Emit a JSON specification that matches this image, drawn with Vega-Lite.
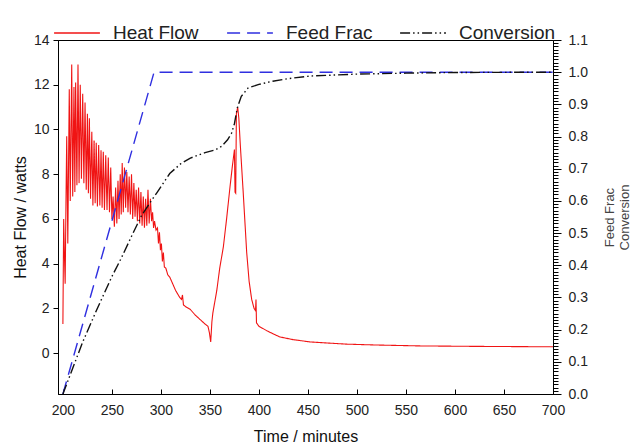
{
  "$schema": "https://vega.github.io/schema/vega-lite/v6.json",
  "width": 495,
  "height": 354,
  "autosize": {"type": "none"},
  "padding": {"left": 58, "top": 40, "right": 89, "bottom": 52},
  "background": "white",
  "config": {
    "view": {"stroke": "black", "strokeWidth": 1},
    "axis": {
      "labelFont": "Liberation Sans",
      "titleFont": "Liberation Sans",
      "domainColor": "black",
      "tickColor": "black",
      "labelColor": "#222222",
      "titleColor": "#111111",
      "labelFontSize": 14,
      "titleFontSize": 16,
      "titleFontWeight": "normal",
      "grid": false
    }
  },
  "datasets": {
    "hf": [
      {"t": 200.0, "v": 1.3, "s": "Heat Flow"},
      {"t": 200.8, "v": 6.0, "s": "Heat Flow"},
      {"t": 201.5, "v": 4.5, "s": "Heat Flow"},
      {"t": 202.3, "v": 3.1, "s": "Heat Flow"},
      {"t": 203.2, "v": 7.0, "s": "Heat Flow"},
      {"t": 203.9, "v": 9.7, "s": "Heat Flow"},
      {"t": 205.0, "v": 4.9, "s": "Heat Flow"},
      {"t": 206.5, "v": 11.8, "s": "Heat Flow"},
      {"t": 207.5, "v": 6.8, "s": "Heat Flow"},
      {"t": 209.0, "v": 12.9, "s": "Heat Flow"},
      {"t": 210.0, "v": 7.0, "s": "Heat Flow"},
      {"t": 211.3, "v": 11.9, "s": "Heat Flow"},
      {"t": 212.2, "v": 7.2, "s": "Heat Flow"},
      {"t": 213.0, "v": 12.1, "s": "Heat Flow"},
      {"t": 214.3, "v": 7.5, "s": "Heat Flow"},
      {"t": 215.4, "v": 12.9, "s": "Heat Flow"},
      {"t": 216.5, "v": 7.6, "s": "Heat Flow"},
      {"t": 217.7, "v": 12.0, "s": "Heat Flow"},
      {"t": 218.9, "v": 7.8, "s": "Heat Flow"},
      {"t": 220.2, "v": 11.6, "s": "Heat Flow"},
      {"t": 221.4, "v": 7.6, "s": "Heat Flow"},
      {"t": 222.6, "v": 11.2, "s": "Heat Flow"},
      {"t": 223.8, "v": 7.3, "s": "Heat Flow"},
      {"t": 225.0, "v": 10.7, "s": "Heat Flow"},
      {"t": 226.0, "v": 7.15, "s": "Heat Flow"},
      {"t": 227.0, "v": 10.5, "s": "Heat Flow"},
      {"t": 228.2, "v": 6.9, "s": "Heat Flow"},
      {"t": 229.5, "v": 9.9, "s": "Heat Flow"},
      {"t": 230.6, "v": 6.6, "s": "Heat Flow"},
      {"t": 231.8, "v": 9.5, "s": "Heat Flow"},
      {"t": 232.9, "v": 6.7, "s": "Heat Flow"},
      {"t": 234.0, "v": 9.4, "s": "Heat Flow"},
      {"t": 235.2, "v": 6.55, "s": "Heat Flow"},
      {"t": 236.5, "v": 9.3, "s": "Heat Flow"},
      {"t": 237.7, "v": 6.6, "s": "Heat Flow"},
      {"t": 238.9, "v": 9.07, "s": "Heat Flow"},
      {"t": 240.0, "v": 6.5, "s": "Heat Flow"},
      {"t": 241.2, "v": 9.0, "s": "Heat Flow"},
      {"t": 242.4, "v": 6.4, "s": "Heat Flow"},
      {"t": 243.7, "v": 8.85, "s": "Heat Flow"},
      {"t": 245.0, "v": 6.4, "s": "Heat Flow"},
      {"t": 246.3, "v": 8.75, "s": "Heat Flow"},
      {"t": 247.5, "v": 6.3, "s": "Heat Flow"},
      {"t": 248.8, "v": 8.3, "s": "Heat Flow"},
      {"t": 250.0, "v": 6.0, "s": "Heat Flow"},
      {"t": 251.2, "v": 7.0, "s": "Heat Flow"},
      {"t": 252.5, "v": 5.65, "s": "Heat Flow"},
      {"t": 253.8, "v": 7.4, "s": "Heat Flow"},
      {"t": 255.0, "v": 5.8, "s": "Heat Flow"},
      {"t": 256.2, "v": 7.7, "s": "Heat Flow"},
      {"t": 257.3, "v": 6.0, "s": "Heat Flow"},
      {"t": 258.5, "v": 8.0, "s": "Heat Flow"},
      {"t": 259.5, "v": 6.2, "s": "Heat Flow"},
      {"t": 260.5, "v": 8.5, "s": "Heat Flow"},
      {"t": 261.6, "v": 6.3, "s": "Heat Flow"},
      {"t": 262.8, "v": 8.3, "s": "Heat Flow"},
      {"t": 264.0, "v": 6.5, "s": "Heat Flow"},
      {"t": 265.2, "v": 8.1, "s": "Heat Flow"},
      {"t": 266.4, "v": 6.3, "s": "Heat Flow"},
      {"t": 267.6, "v": 7.9, "s": "Heat Flow"},
      {"t": 268.8, "v": 6.2, "s": "Heat Flow"},
      {"t": 270.0, "v": 8.0, "s": "Heat Flow"},
      {"t": 271.2, "v": 6.0, "s": "Heat Flow"},
      {"t": 272.4, "v": 7.6, "s": "Heat Flow"},
      {"t": 273.6, "v": 6.1, "s": "Heat Flow"},
      {"t": 274.8, "v": 7.3, "s": "Heat Flow"},
      {"t": 276.0, "v": 5.9, "s": "Heat Flow"},
      {"t": 277.2, "v": 7.4, "s": "Heat Flow"},
      {"t": 278.4, "v": 5.8, "s": "Heat Flow"},
      {"t": 279.6, "v": 7.2, "s": "Heat Flow"},
      {"t": 280.8, "v": 5.7, "s": "Heat Flow"},
      {"t": 282.0, "v": 7.0, "s": "Heat Flow"},
      {"t": 283.2, "v": 5.6, "s": "Heat Flow"},
      {"t": 284.4, "v": 6.9, "s": "Heat Flow"},
      {"t": 285.6, "v": 5.7, "s": "Heat Flow"},
      {"t": 286.8, "v": 7.3, "s": "Heat Flow"},
      {"t": 288.0, "v": 5.8, "s": "Heat Flow"},
      {"t": 289.3, "v": 6.9, "s": "Heat Flow"},
      {"t": 290.5, "v": 5.9, "s": "Heat Flow"},
      {"t": 291.5, "v": 6.3, "s": "Heat Flow"},
      {"t": 292.5, "v": 5.6, "s": "Heat Flow"},
      {"t": 293.5, "v": 5.9, "s": "Heat Flow"},
      {"t": 295.0, "v": 5.5, "s": "Heat Flow"},
      {"t": 296.5, "v": 5.6, "s": "Heat Flow"},
      {"t": 297.5, "v": 4.9, "s": "Heat Flow"},
      {"t": 298.5, "v": 5.4, "s": "Heat Flow"},
      {"t": 299.5, "v": 4.6, "s": "Heat Flow"},
      {"t": 300.5, "v": 4.9, "s": "Heat Flow"},
      {"t": 301.5, "v": 4.1, "s": "Heat Flow"},
      {"t": 302.5, "v": 4.5, "s": "Heat Flow"},
      {"t": 303.5, "v": 3.85, "s": "Heat Flow"},
      {"t": 305.0, "v": 3.8, "s": "Heat Flow"},
      {"t": 307.0, "v": 3.5, "s": "Heat Flow"},
      {"t": 309.0, "v": 3.4, "s": "Heat Flow"},
      {"t": 312.0, "v": 3.1, "s": "Heat Flow"},
      {"t": 315.0, "v": 2.8, "s": "Heat Flow"},
      {"t": 319.0, "v": 2.5, "s": "Heat Flow"},
      {"t": 321.0, "v": 2.4, "s": "Heat Flow"},
      {"t": 322.0, "v": 2.6, "s": "Heat Flow"},
      {"t": 323.0, "v": 2.15, "s": "Heat Flow"},
      {"t": 326.0, "v": 2.05, "s": "Heat Flow"},
      {"t": 330.0, "v": 1.95, "s": "Heat Flow"},
      {"t": 335.0, "v": 1.7, "s": "Heat Flow"},
      {"t": 340.0, "v": 1.5, "s": "Heat Flow"},
      {"t": 345.0, "v": 1.3, "s": "Heat Flow"},
      {"t": 348.0, "v": 1.2, "s": "Heat Flow"},
      {"t": 349.5, "v": 0.9, "s": "Heat Flow"},
      {"t": 350.8, "v": 0.5, "s": "Heat Flow"},
      {"t": 352.0, "v": 1.4, "s": "Heat Flow"},
      {"t": 353.0, "v": 1.8, "s": "Heat Flow"},
      {"t": 355.0, "v": 2.3, "s": "Heat Flow"},
      {"t": 357.0, "v": 2.8, "s": "Heat Flow"},
      {"t": 360.0, "v": 3.8, "s": "Heat Flow"},
      {"t": 363.7, "v": 4.75, "s": "Heat Flow"},
      {"t": 367.0, "v": 6.0, "s": "Heat Flow"},
      {"t": 370.5, "v": 7.44, "s": "Heat Flow"},
      {"t": 373.0, "v": 8.4, "s": "Heat Flow"},
      {"t": 375.0, "v": 9.1, "s": "Heat Flow"},
      {"t": 375.6, "v": 7.2, "s": "Heat Flow"},
      {"t": 376.3, "v": 7.15, "s": "Heat Flow"},
      {"t": 377.0, "v": 10.7, "s": "Heat Flow"},
      {"t": 378.3, "v": 11.0, "s": "Heat Flow"},
      {"t": 379.5, "v": 10.5, "s": "Heat Flow"},
      {"t": 381.0, "v": 9.3, "s": "Heat Flow"},
      {"t": 384.0, "v": 7.15, "s": "Heat Flow"},
      {"t": 387.5, "v": 4.5, "s": "Heat Flow"},
      {"t": 390.0, "v": 3.2, "s": "Heat Flow"},
      {"t": 392.6, "v": 2.4, "s": "Heat Flow"},
      {"t": 395.0, "v": 2.0, "s": "Heat Flow"},
      {"t": 396.5, "v": 1.9, "s": "Heat Flow"},
      {"t": 397.0, "v": 2.4, "s": "Heat Flow"},
      {"t": 397.5, "v": 1.35, "s": "Heat Flow"},
      {"t": 400.0, "v": 1.2, "s": "Heat Flow"},
      {"t": 404.0, "v": 1.1, "s": "Heat Flow"},
      {"t": 408.0, "v": 1.0, "s": "Heat Flow"},
      {"t": 415.0, "v": 0.85, "s": "Heat Flow"},
      {"t": 421.5, "v": 0.72, "s": "Heat Flow"},
      {"t": 435.0, "v": 0.6, "s": "Heat Flow"},
      {"t": 452.0, "v": 0.5, "s": "Heat Flow"},
      {"t": 470.0, "v": 0.45, "s": "Heat Flow"},
      {"t": 489.0, "v": 0.4, "s": "Heat Flow"},
      {"t": 520.0, "v": 0.36, "s": "Heat Flow"},
      {"t": 564.0, "v": 0.32, "s": "Heat Flow"},
      {"t": 620.0, "v": 0.3, "s": "Heat Flow"},
      {"t": 660.0, "v": 0.29, "s": "Heat Flow"},
      {"t": 700.0, "v": 0.28, "s": "Heat Flow"}
    ],
    "fc": [
      {"t": 200, "v": 0.0, "s": "Feed Frac"},
      {"t": 293, "v": 1.0, "s": "Feed Frac"},
      {"t": 700, "v": 1.0, "s": "Feed Frac"},
      {"t": 200, "v": 0.0, "s": "Conversion"},
      {"t": 210, "v": 0.08, "s": "Conversion"},
      {"t": 220, "v": 0.16, "s": "Conversion"},
      {"t": 235, "v": 0.265, "s": "Conversion"},
      {"t": 250, "v": 0.365, "s": "Conversion"},
      {"t": 260, "v": 0.425, "s": "Conversion"},
      {"t": 270, "v": 0.49, "s": "Conversion"},
      {"t": 280, "v": 0.553, "s": "Conversion"},
      {"t": 290, "v": 0.6, "s": "Conversion"},
      {"t": 296, "v": 0.626, "s": "Conversion"},
      {"t": 309, "v": 0.685, "s": "Conversion"},
      {"t": 320, "v": 0.715, "s": "Conversion"},
      {"t": 330, "v": 0.733, "s": "Conversion"},
      {"t": 345, "v": 0.75, "s": "Conversion"},
      {"t": 355, "v": 0.758, "s": "Conversion"},
      {"t": 362, "v": 0.77, "s": "Conversion"},
      {"t": 368, "v": 0.79, "s": "Conversion"},
      {"t": 372, "v": 0.81, "s": "Conversion"},
      {"t": 375, "v": 0.84, "s": "Conversion"},
      {"t": 378, "v": 0.89, "s": "Conversion"},
      {"t": 382, "v": 0.925, "s": "Conversion"},
      {"t": 389, "v": 0.951, "s": "Conversion"},
      {"t": 400, "v": 0.962, "s": "Conversion"},
      {"t": 414, "v": 0.972, "s": "Conversion"},
      {"t": 430, "v": 0.98, "s": "Conversion"},
      {"t": 452, "v": 0.988, "s": "Conversion"},
      {"t": 500, "v": 0.994, "s": "Conversion"},
      {"t": 550, "v": 0.997, "s": "Conversion"},
      {"t": 600, "v": 0.999, "s": "Conversion"},
      {"t": 700, "v": 1.0, "s": "Conversion"}
    ]
  },
  "layer": [
    {
      "data": {"name": "hf"},
      "mark": {"type": "line", "strokeWidth": 1.1, "clip": true},
      "encoding": {
        "x": {
          "field": "t", "type": "quantitative",
          "scale": {"domain": [195, 700], "nice": false, "zero": false},
          "axis": {"values": [200, 250, 300, 350, 400, 450, 500, 550, 600, 650, 700], "tickSize": -5, "labelPadding": 14, "title": "Time / minutes", "titlePadding": 11, "labelFlush": false}
        },
        "y": {
          "field": "v", "type": "quantitative",
          "scale": {"domain": [-1.83, 14], "nice": false, "zero": false},
          "axis": {"orient": "left", "values": [0, 2, 4, 6, 8, 10, 12, 14], "tickSize": 5, "labelPadding": 4, "title": "Heat Flow / watts", "titlePadding": 5, "labelFlush": false}
        },
        "color": {
          "field": "s", "type": "nominal",
          "scale": {"domain": ["Heat Flow", "Feed Frac", "Conversion"], "range": ["#f01414", "#2f2fe0", "#111111"]},
          "legend": {"orient": "none", "legendX": -5, "legendY": -31, "direction": "horizontal", "gridAlign": "all", "title": null, "symbolType": "stroke", "symbolSize": 2100, "symbolStrokeWidth": 1.4, "labelFontSize": 19, "labelFont": "Liberation Sans", "labelColor": "#222222", "columnPadding": 14, "labelOffset": 12}
        },
        "strokeDash": {
          "field": "s", "type": "nominal",
          "scale": {"domain": ["Heat Flow", "Feed Frac", "Conversion"], "range": [[1, 0], [13, 7], [10, 3, 1.5, 3, 1.5, 3]]},
          "legend": {"orient": "none", "legendX": -5, "legendY": -31, "direction": "horizontal", "gridAlign": "all", "title": null, "symbolType": "stroke", "symbolSize": 2100, "symbolStrokeWidth": 1.4, "labelFontSize": 19, "labelFont": "Liberation Sans", "labelColor": "#222222", "columnPadding": 14, "labelOffset": 12}
        }
      }
    },
    {
      "data": {"name": "fc"},
      "mark": {"type": "line", "strokeWidth": 1.4, "clip": true},
      "encoding": {
        "x": {
          "field": "t", "type": "quantitative",
          "axis": {"values": [200, 250, 300, 350, 400, 450, 500, 550, 600, 650, 700], "tickSize": -5, "labelPadding": 14, "title": "Time / minutes", "titlePadding": 11, "labelFlush": false}
        },
        "y": {
          "field": "v", "type": "quantitative",
          "scale": {"domain": [0, 1.1], "nice": false, "zero": false},
          "axis": {
            "orient": "right",
            "tickCount": 110,
            "labelExpr": "abs(round(datum.value*10)-datum.value*10)<0.001 ? format(datum.value,'.1f') : ''",
            "labelOverlap": false,
            "labelFlush": false,
            "tickSize": {"condition": {"test": "abs(round(datum.value*10)-datum.value*10)<0.001", "value": 8}, "value": 5},
            "labelPadding": 7,
            "title": ["Feed Frac", "Conversion"],
            "titleAngle": 270,
            "titleFontSize": 13,
            "titleColor": "#444444",
            "titlePadding": 14
          }
        },
        "color": {"field": "s", "type": "nominal"},
        "strokeDash": {"field": "s", "type": "nominal"}
      }
    }
  ],
  "resolve": {"scale": {"y": "independent"}}
}
